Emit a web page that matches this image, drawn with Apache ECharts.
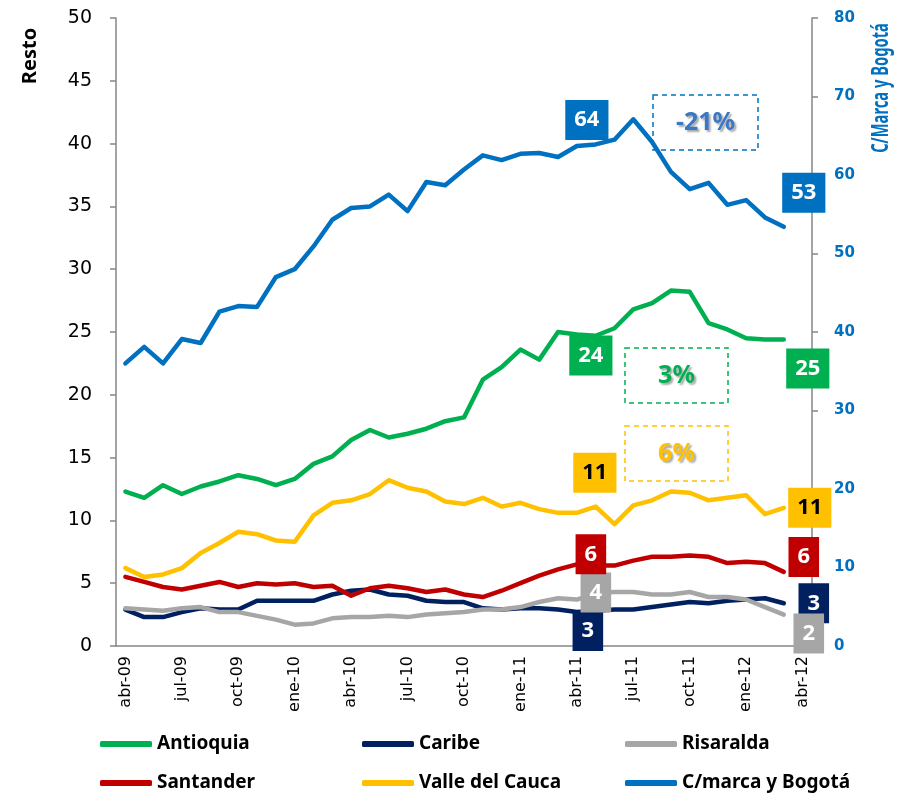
<!DOCTYPE html>
<html>
<head>
<meta charset="utf-8">
<script src="https://cdn.jsdelivr.net/npm/echarts@6/dist/echarts.min.js"></script>
<style>
  html, body { margin: 0; padding: 0; background: #fff; }
  #chart { width: 900px; height: 793px; }
</style>
</head>
<body>
<div id="chart"></div>
<script>
// meses abr-09 ... abr-12
const meses = ['abr-09','may-09','jun-09','jul-09','ago-09','sep-09','oct-09','nov-09','dic-09',
  'ene-10','feb-10','mar-10','abr-10','may-10','jun-10','jul-10','ago-10','sep-10','oct-10','nov-10','dic-10',
  'ene-11','feb-11','mar-11','abr-11','may-11','jun-11','jul-11','ago-11','sep-11','oct-11','nov-11','dic-11',
  'ene-12','feb-12','mar-12','abr-12'];

const antioquia = [12.3,11.8,12.8,12.1,12.7,13.1,13.6,13.3,12.8,13.3,14.5,15.1,16.4,17.2,16.6,16.9,17.3,17.9,
  18.2,21.2,22.2,23.6,22.8,25.0,24.8,24.7,25.3,26.8,27.3,28.3,28.2,25.7,25.2,24.5,24.4,24.4];
const caribe = [2.9,2.3,2.3,2.7,3.0,2.9,2.9,3.6,3.6,3.6,3.6,4.1,4.4,4.5,4.1,4.0,3.6,3.5,
  3.5,3.0,2.9,3.0,3.0,2.9,2.7,2.8,2.9,2.9,3.1,3.3,3.5,3.4,3.6,3.7,3.8,3.4];
const risaralda = [3.0,2.9,2.8,3.0,3.1,2.7,2.7,2.4,2.1,1.7,1.8,2.2,2.3,2.3,2.4,2.3,2.5,2.6,
  2.7,2.9,2.9,3.1,3.5,3.8,3.7,4.2,4.3,4.3,4.1,4.1,4.3,3.9,3.9,3.7,3.1,2.5];
const santander = [5.5,5.1,4.7,4.5,4.8,5.1,4.7,5.0,4.9,5.0,4.7,4.8,4.0,4.6,4.8,4.6,4.3,4.5,
  4.1,3.9,4.4,5.0,5.6,6.1,6.5,6.4,6.4,6.8,7.1,7.1,7.2,7.1,6.6,6.7,6.6,5.9];
const valle = [6.2,5.5,5.7,6.2,7.4,8.2,9.1,8.9,8.4,8.3,10.4,11.4,11.6,12.1,13.2,12.6,12.3,11.5,
  11.3,11.8,11.1,11.4,10.9,10.6,10.6,11.1,9.7,11.2,11.6,12.3,12.2,11.6,11.8,12.0,10.5,11.0];
const bogota = [36.0,38.1,36.0,39.1,38.6,42.6,43.3,43.2,47.0,48.0,50.9,54.3,55.8,56.0,57.5,55.4,59.1,58.7,
  60.7,62.5,61.9,62.7,62.8,62.3,63.7,63.9,64.5,67.1,64.2,60.4,58.2,59.0,56.2,56.8,54.6,53.4];

// etiquetas en abr-11 y al final
const etiquetaAbr11 = ['24', '3', '4', '6', '11', '64'];
const etiquetaFinal = ['25', '3', '2', '6', '11', '53'];
const variaciones = ['-21%', '3%', '6%'];

const idxAbr11 = 24;
const idxFinal = 35;

const fuente = '"Noto Sans", sans-serif';

const regiones = [
  { name: 'Antioquia', data: antioquia, color: '#00B050', eje: 0, txt: '#fff', offA: [14, 21], offF: [24, 29] },
  { name: 'Caribe', data: caribe, color: '#002060', eje: 0, txt: '#fff', offA: [11, 19], offF: [30, 0] },
  { name: 'Risaralda', data: risaralda, color: '#A6A6A6', eje: 0, txt: '#fff', offA: [19, -7], offF: [25, 19] },
  { name: 'Santander', data: santander, color: '#C00000', eje: 0, txt: '#fff', offA: [14, -10], offF: [20, -15] },
  { name: 'Valle del Cauca', data: valle, color: '#FFC000', eje: 0, txt: '#000', offA: [18, -40], offF: [26, 0] },
  { name: 'C/marca y Bogotá', data: bogota, color: '#0070C0', eje: 1, txt: '#fff', offA: [10, -26], offF: [20, -34] }
];

const cajaEtiqueta = (texto, r, off) => ({
  show: true,
  position: 'inside',
  offset: off,
  formatter: texto,
  backgroundColor: r.color,
  color: r.txt,
  fontFamily: fuente,
  fontWeight: 'bold',
  fontSize: 22,
  lineHeight: 26,
  padding: [7, 9, 7, 9]
});

const series = regiones.map((r, n) => ({
  name: r.name,
  type: 'line',
  yAxisIndex: r.eje,
  symbol: 'circle',
  symbolSize: 1,
  showSymbol: true,
  itemStyle: { color: r.color },
  lineStyle: { width: 4.5, color: r.color, cap: 'round', join: 'round' },
  emphasis: { disabled: true },
  z: 2 + n,
  data: r.data.map((v, i) => {
    if (i === idxAbr11) return { value: v, label: cajaEtiqueta(etiquetaAbr11[n], r, r.offA) };
    if (i === idxFinal) return { value: v, label: cajaEtiqueta(etiquetaFinal[n], r, r.offF) };
    return v;
  })
}));

const legendPos = [
  [100, 732], [362, 732], [625, 732],
  [100, 771], [362, 771], [625, 771]
];
const ordenLeyenda = ['Antioquia', 'Caribe', 'Risaralda', 'Santander', 'Valle del Cauca', 'C/marca y Bogotá'];

const legends = ordenLeyenda.map((nombre, i) => ({
  data: [nombre],
  left: legendPos[i][0],
  top: legendPos[i][1],
  padding: 0,
  orient: 'horizontal',
  icon: 'roundRect',
  itemWidth: 52,
  itemHeight: 6,
  itemGap: 8,
  selectedMode: false,
  textStyle: { fontFamily: fuente, fontWeight: 'bold', fontSize: 19, lineHeight: 24, color: '#000' }
}));

const cajaVar = (x, y, w, h, color, texto, tcolor) => ([
  {
    type: 'rect',
    shape: { x: x, y: y, width: w, height: h },
    style: { fill: 'none', stroke: color, lineWidth: 1.5, lineDash: [5, 4] },
    z: 10
  },
  {
    type: 'text',
    x: x + w / 2,
    y: y + h / 2,
    style: {
      text: texto, fill: tcolor, align: 'center', verticalAlign: 'middle',
      font: 'bold 25px "Noto Sans", sans-serif',
      textShadowColor: 'rgba(0,0,0,0.35)', textShadowBlur: 2, textShadowOffsetX: 2, textShadowOffsetY: 2
    },
    z: 11
  }
]);

const chart = echarts.init(document.getElementById('chart'));

chart.setOption({
  animation: false,
  grid: { left: 116, right: 88, top: 18, bottom: 147 },
  legend: legends,
  xAxis: {
    type: 'category',
    data: meses,
    boundaryGap: true,
    axisLine: { lineStyle: { color: '#868686', width: 1.5 } },
    axisTick: { interval: 2, length: 7, lineStyle: { color: '#868686', width: 1.5 } },
    axisLabel: {
      interval: 2, rotate: 90, margin: 10,
      fontFamily: '"DejaVu Sans", sans-serif', fontSize: 16, color: '#000'
    },
    splitLine: { show: false }
  },
  yAxis: [
    {
      type: 'value', min: 0, max: 50, interval: 5, position: 'left',
      axisLine: { show: true, lineStyle: { color: '#868686', width: 1.5 } },
      axisTick: { show: true, length: 6, lineStyle: { color: '#868686', width: 1.5 } },
      axisLabel: { margin: 24, fontFamily: '"DejaVu Sans", sans-serif', fontSize: 19, color: '#000' },
      splitLine: { show: false }
    },
    {
      type: 'value', min: 0, max: 80, interval: 10, position: 'right',
      axisLine: { show: true, lineStyle: { color: '#868686', width: 1.5 } },
      axisTick: { show: true, length: 6, lineStyle: { color: '#868686', width: 1.5 } },
      axisLabel: { margin: 22, fontFamily: '"DejaVu Sans", sans-serif', fontWeight: 'bold', fontSize: 15, color: '#0070C0' },
      splitLine: { show: false }
    }
  ],
  graphic: [
    {
      type: 'text', x: 30, y: 56, rotation: Math.PI / 2,
      style: { text: 'Resto', fill: '#000', align: 'center', verticalAlign: 'middle',
        font: 'bold 20px ' + fuente }
    },
    {
      type: 'text', x: 881, y: 88, rotation: Math.PI / 2, scaleX: 0.64,
      style: { text: 'C/Marca y Bogotá', fill: '#0070C0', align: 'center', verticalAlign: 'middle',
        font: 'bold 23px ' + fuente }
    },
    ...cajaVar(653, 95, 105, 55, '#0070C0', variaciones[0], '#3B78C4'),
    ...cajaVar(625, 348, 103, 55, '#00B050', variaciones[1], '#00B050'),
    ...cajaVar(625, 426, 103, 55, '#FFC000', variaciones[2], '#FFC000')
  ],
  series: series
});
</script>
</body>
</html>
